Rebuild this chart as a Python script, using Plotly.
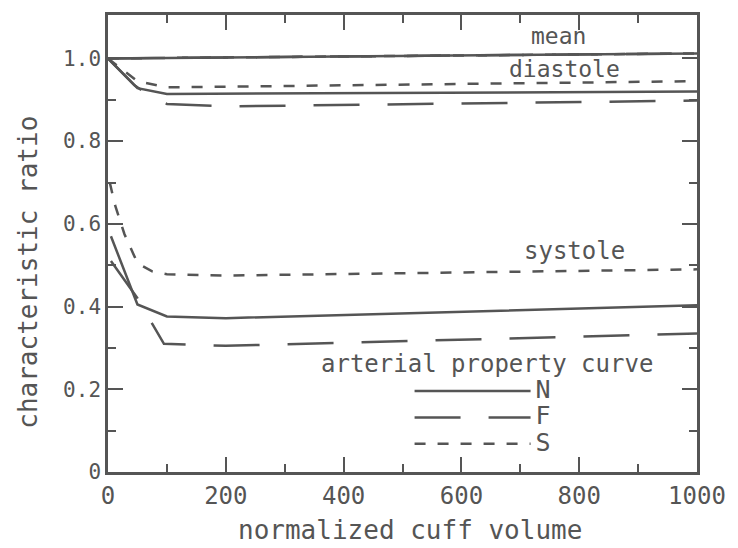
import plotly.graph_objects as go

# ---- data ----
mean_x = [0, 1000]
mean_N = [1.0, 1.012]
mean_F = [1.0, 1.012]
mean_S = [1.0, 1.012]

dia_N_x = [0, 50, 100, 1000]
dia_N = [1.0, 0.928, 0.914, 0.92]
dia_F_x = [0, 45, 75, 100, 200, 1000]
dia_F = [1.0, 0.935, 0.905, 0.89, 0.884, 0.898]
dia_S_x = [0, 50, 100, 1000]
dia_S = [1.0, 0.945, 0.93, 0.945]

sys_N_x = [5, 50, 100, 200, 1000]
sys_N = [0.57, 0.405, 0.376, 0.372, 0.403]
sys_F_x = [5, 50, 95, 200, 1000]
sys_F = [0.51, 0.42, 0.31, 0.305, 0.335]
sys_S_x = [3, 12, 28, 50, 75, 100, 200, 1000]
sys_S = [0.70, 0.645, 0.575, 0.505, 0.485, 0.478, 0.475, 0.49]

x_ticks = [0, 200, 400, 600, 800, 1000]
y_ticks = [0, 0.2, 0.4, 0.6, 0.8, 1.0]
y_tick_text = ["0", "0.2", "0.4", "0.6", "0.8", "1.0"]

INK = "#555555"
FONT = "DejaVu Sans Mono"


def join(*parts):
    xs, ys = [], []
    for i, (px, py) in enumerate(parts):
        if i:
            xs.append(None)
            ys.append(None)
        xs += list(px)
        ys += list(py)
    return xs, ys


fig = go.Figure()

series = [
    ("F", (mean_x, mean_F), (dia_F_x, dia_F), (sys_F_x, sys_F), "46px,28px", 2),
    ("S", (mean_x, mean_S), (dia_S_x, dia_S), (sys_S_x, sys_S), "11px,12px", 3),
    ("N", (mean_x, mean_N), (dia_N_x, dia_N), (sys_N_x, sys_N), "solid", 1),
]
for name, m, d, s, dash, rank in series:
    xs, ys = join(m, d, s)
    fig.add_trace(go.Scatter(x=xs, y=ys, mode="lines",
                             name='<span style="font-size:25px">%s</span>' % name,
                             legendrank=rank,
                             line=dict(color=INK, width=2.5, dash=dash),
                             connectgaps=False))

fig.update_layout(
    width=738, height=548,
    margin=dict(l=108, r=36, t=12, b=76),
    paper_bgcolor="white", plot_bgcolor="white",
    font=dict(family=FONT, color=INK, size=22),
    showlegend=True,
    legend=dict(x=0.512, y=0.217, xanchor="left", yanchor="top",
                traceorder="normal", itemwidth=116,
                font=dict(size=18, family=FONT, color=INK),
                bgcolor="rgba(0,0,0,0)"),
)

fig.update_xaxes(range=[0, 1000], tickvals=x_ticks, ticks="inside", ticklen=15,
                 tickwidth=2, tickcolor=INK, showline=True, linecolor=INK,
                 linewidth=2.5, mirror="ticks", showgrid=False, zeroline=False,
                 tickfont=dict(size=24, family=FONT, color=INK),
                 minor=dict(tickvals=[100, 300, 500, 700, 900], ticks="inside",
                            ticklen=8, tickwidth=2, tickcolor=INK))
fig.update_yaxes(range=[0, 1.105], tickvals=y_ticks, ticktext=y_tick_text,
                 ticks="inside", ticklen=15, tickwidth=2, tickcolor=INK,
                 showline=True, linecolor=INK, linewidth=2.5, mirror="ticks",
                 showgrid=False, zeroline=False,
                 tickfont=dict(size=21, family=FONT, color=INK),
                 minor=dict(tickvals=[0.1, 0.3, 0.5, 0.7, 0.9], ticks="inside",
                            ticklen=8, tickwidth=2, tickcolor=INK))

fig.add_annotation(x=765, y=1.055, xref="x", yref="y", text="mean",
                   showarrow=False, font=dict(size=23, family=FONT, color=INK))
fig.add_annotation(x=775, y=0.974, xref="x", yref="y", text="diastole",
                   showarrow=False, font=dict(size=23, family=FONT, color=INK))
fig.add_annotation(x=792, y=0.534, xref="x", yref="y", text="systole",
                   showarrow=False, font=dict(size=24, family=FONT, color=INK))
fig.add_annotation(x=0.643, y=0.237, xref="paper", yref="paper",
                   xanchor="center", yanchor="middle",
                   text="arterial property curve", showarrow=False,
                   font=dict(size=24, family=FONT, color=INK))
fig.add_annotation(x=0.512, y=-0.126, xref="paper", yref="paper",
                   xanchor="center", yanchor="middle",
                   text="normalized cuff volume", showarrow=False,
                   font=dict(size=26, family=FONT, color=INK))
fig.add_annotation(x=-0.135, y=0.437, xref="paper", yref="paper",
                   xanchor="center", yanchor="middle", textangle=-90,
                   text="characteristic ratio", showarrow=False,
                   font=dict(size=26, family=FONT, color=INK))

fig.write_html("out.html")
